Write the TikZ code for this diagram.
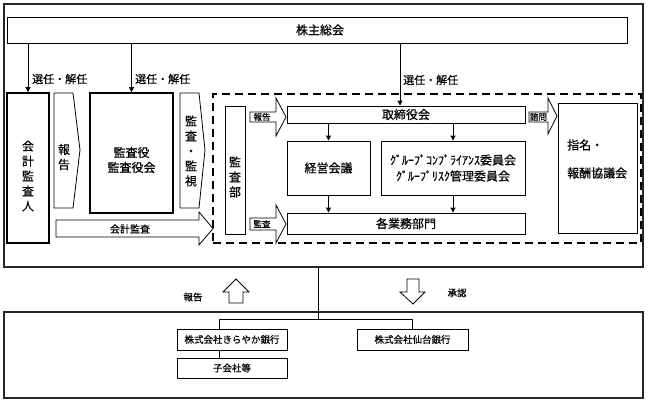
\documentclass[tikz,border=0pt]{standalone}
\usepackage{fontspec}
\setmainfont{Noto Sans CJK JP}[FakeBold=0.5]
\usetikzlibrary{arrows.meta}
\begin{document}
\begin{tikzpicture}[x=1pt,y=-1pt,
  box/.style={draw, line width=0.9pt, inner sep=0pt},
  thickbox/.style={draw, line width=1.8pt, inner sep=0pt},
  outerbox/.style={draw=black!85, line width=1.2pt, inner sep=0pt},
  blk/.style={draw, line width=0.8pt, fill=white, line join=miter},
  con/.style={line width=1pt, -{Triangle[length=5pt,width=5pt]}},
  ln/.style={line width=1pt},
  big/.style={font=\fontsize{12}{14}\selectfont},
  vert/.style={font=\fontsize{12}{15}\selectfont, align=center, inner sep=0pt},
  lbl/.style={font=\fontsize{11}{12}\selectfont, inner sep=0pt},
  tiny/.style={font=\fontsize{8.5}{10}\selectfont, inner sep=0pt},
  small/.style={font=\fontsize{9.5}{11}\selectfont}
]
\useasboundingbox (0,0) rectangle (648,403);

% outer boxes
\node[outerbox, minimum width=639pt, minimum height=263pt] (top) at (323.5,135.5) {};
\node[outerbox, minimum width=639pt, minimum height=86pt] (bottom) at (323.5,355) {};

% shareholders
\node[box, big, minimum width=620pt, minimum height=26pt] (soukai) at (317,30) {\hspace*{6pt}株主総会};

% accounting auditor
\node[thickbox, minimum width=42pt, minimum height=150pt] (kaikei) at (28,168) {};
\node[vert] (kaikeit) at (28,176) {会\\計\\監\\査\\人};

% report block arrow
\draw[blk] (54,93) -- (73,93) -- (80,150) -- (73,208) -- (54,208) -- cycle;
\node[vert] (hok1) at (64,157) {報\\告};

% audit & supervisory board
\node[thickbox, minimum width=83pt, minimum height=120pt] (kansayaku) at (131.5,153) {};
\node[vert] (kansayakut) at (131.5,160) {監査役\\監査役会};

% audit/supervise block arrow
\draw[blk] (180,93) -- (199,93) -- (205,150) -- (199,208) -- (180,208) -- cycle;
\node[vert] (kk) at (191,151) {監\\査\\・\\監\\視};

% accounting audit block arrow
\draw[blk] (56,220) -- (199,220) -- (199,212) -- (213,228.5) -- (199,245) -- (199,237) -- (56,237) -- cycle;
\node[lbl, font=\fontsize{10}{12}\selectfont] (kaikeikansa) at (130,229) {会計監査};

% dashed area
\node[draw, line width=1.8pt, dash pattern=on 8pt off 5pt, minimum width=428pt, minimum height=149pt, inner sep=0pt] (area) at (427,168.5) {};

% internal audit dept
\node[box, minimum width=20pt, minimum height=128pt] (kansabu) at (235,170) {};
\node[vert] (kansabut) at (235,177) {監\\査\\部};

% small block arrows
\draw[blk] (250,112) -- (276,112) -- (276,98) -- (286,117) -- (276,136) -- (276,122) -- (250,122) -- cycle;
\node[tiny] (hok2) at (262,117) {報告};
\draw[blk] (250,218) -- (276,218) -- (276,205) -- (286,224) -- (276,243) -- (276,230) -- (250,230) -- cycle;
\node[tiny] (kansa2) at (262,224) {監査};
\draw[blk] (529,112) -- (548,112) -- (548,98) -- (557,116) -- (548,134) -- (548,122) -- (529,122) -- cycle;
\node[tiny] (shimon) at (538.5,117) {諮問};

% board and committees
\node[box, big, minimum width=238pt, minimum height=17pt] (torishimari) at (406,114.5) {取締役会};
\node[box, big, minimum width=83pt, minimum height=54pt] (keiei) at (328.5,168) {経営会議};
\node[box, big, minimum width=144pt, minimum height=54pt, align=center, font=\fontsize{12}{16}\selectfont] (group) at (453,168) {ｸﾞﾙｰﾌﾟｺﾝﾌﾟﾗｲｱﾝｽ委員会\\ｸﾞﾙｰﾌﾟﾘｽｸ管理委員会};
\node[box, big, minimum width=238pt, minimum height=21pt] (gyomu) at (406,223.5) {各業務部門};
\node[box, minimum width=79pt, minimum height=130pt] (shimei) at (597.5,168) {};
\node[inner sep=0pt, anchor=west, align=left, font=\fontsize{12}{28}\selectfont] (shimeit) at (567,159) {指名・\\報酬協議会};

% election arrows
\draw[con] (soukai.south -| kaikei.north) -- (kaikei.north);
\draw[con] (soukai.south -| kansayaku.north) -- (kansayaku.north);
\coordinate (a3) at (400,0);
\draw[con] (soukai.south -| a3) -- (torishimari.north -| a3);
\node[lbl, anchor=west] (s1) at (32,79) {選任・解任};
\node[lbl, anchor=west] (s2) at (135,79) {選任・解任};
\node[lbl, anchor=west] (s3) at (403,80) {選任・解任};

% internal arrows
\draw[con] (torishimari.south -| keiei.north) -- (keiei.north);
\draw[con] (torishimari.south -| group.north) -- (group.north);
\draw[con] (keiei.south) -- (gyomu.north -| keiei.south);
\draw[con] (group.south) -- (gyomu.north -| group.south);

% lower section
\node[box, small, minimum width=110pt, minimum height=21pt] (kirayaka) at (232,339.5) {株式会社きらやか銀行};
\node[box, small, minimum width=110pt, minimum height=20pt] (kogaisha) at (232,368) {子会社等};
\node[box, small, minimum width=111pt, minimum height=21pt] (sendai) at (412.5,339.5) {株式会社仙台銀行};

\coordinate (hub) at (318,320);
\coordinate (kL) at (219,0);
\draw[ln] (top.south -| hub) -- (hub);
\draw[ln] (hub) -- (hub -| kL) -- (kirayaka.north -| kL);
\draw[ln] (hub) -- (hub -| sendai.north) -- (sendai.north);
\draw[ln] (kirayaka.south -| kL) -- (kogaisha.north -| kL);

% hollow report/approval arrows
\draw[blk] (236,279) -- (249,292) -- (243,292) -- (243,303) -- (229,303) -- (229,292) -- (223,292) -- cycle;
\draw[blk] (407,279) -- (419,279) -- (419,292) -- (425,292) -- (413,304) -- (400,292) -- (407,292) -- cycle;
\node[small, inner sep=0pt] (hok3) at (193,297) {報告};
\node[small, inner sep=0pt] (shonin) at (457,293) {承認};
\end{tikzpicture}
\end{document}
